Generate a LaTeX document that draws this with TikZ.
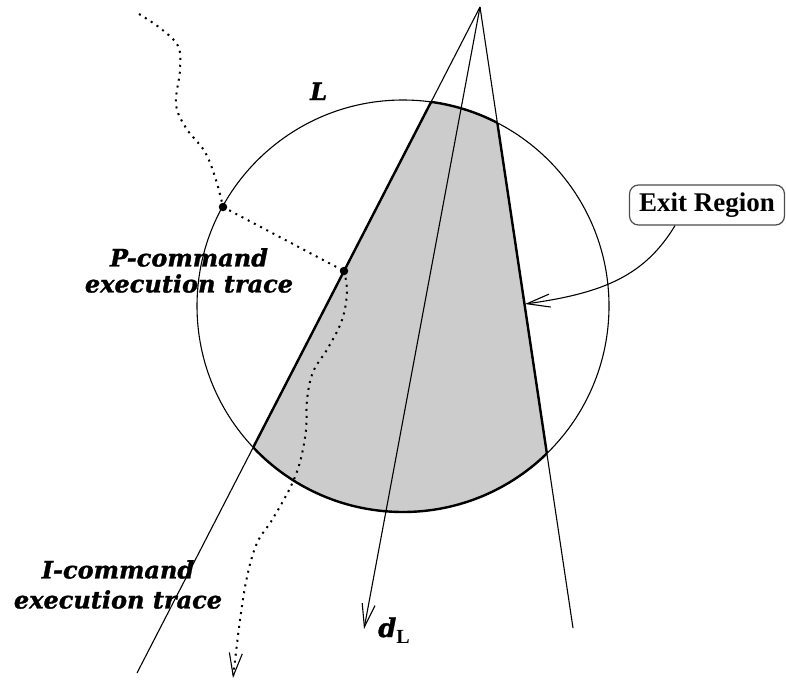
\documentclass[tikz,border=0pt]{standalone}
\usepackage{fontspec}
\setmainfont{DejaVu Serif}[BoldItalicFeatures={FakeBold=1.2}]
\newfontfamily\boxfont{Liberation Serif}
\usetikzlibrary{arrows.meta,positioning,calc}
\definecolor{regiongray}{gray}{0.8}
\definecolor{boxgray}{gray}{0.3}
\tikzset{
  ln/.style={line width=1.1pt},
  bnd/.style={line width=2.4pt},
  barb/.style={-{Straight Barb[length=23pt,width=13pt,line width=1.1pt]}},
  trace/.style={line width=2pt,dash pattern=on 2pt off 5pt},
  tdot/.style={circle,fill=black,inner sep=0pt,minimum size=8.5pt},
  tlab/.style={font=\fontsize{24}{26}\selectfont\bfseries\itshape,inner sep=0pt,align=center},
  exitbox/.style={draw=boxgray,line width=1.2pt,rounded corners=9pt,minimum width=155pt,
    minimum height=40pt,inner sep=0pt,font=\boxfont\fontsize{27}{27}\selectfont\bfseries},
}
\begin{document}
\begin{tikzpicture}[x=1pt,y=-1pt]
  \useasboundingbox (0,0) rectangle (786,682);
  \coordinate (apex) at (480,7);
  \coordinate (lend) at (137,673);
  \coordinate (rend) at (573,628);
  \coordinate (dtip) at (364,629);
  \coordinate (O) at (403,306);
  \def\R{206}
  % shaded region inside L
  \begin{scope}
    \clip (O) circle[radius=\R];
    \fill[regiongray] (apex) -- (lend) -- (rend) -- cycle;
    \draw[bnd] (apex) -- (lend) (apex) -- (rend);
  \end{scope}
  \begin{scope}
    \clip (apex) -- (lend) -- (rend) -- cycle;
    \draw[bnd] (O) circle[radius=\R];
  \end{scope}
  \draw[ln] (O) circle[radius=\R];
  \draw[ln] (apex) -- (lend);
  \draw[ln] (apex) -- (rend);
  \draw[ln,barb] (apex) -- (dtip);
  % execution traces
  \node[tdot] (p1) at (223,207) {};
  \node[tdot] (p2) at (344,271) {};
  \draw[trace] plot[smooth,tension=0.6] coordinates {(139,14) (160,28) (178,46) (180,70)
    (176,104) (186,128) (205,152) (216,180) (223,207)};
  \draw[trace] (p1.center) -- (p2.center);
  \draw[trace,barb] plot[smooth,tension=0.6] coordinates {(344,271) (347,292) (342,320)
    (328,348) (313,372) (307,400) (306,430) (300,462) (290,488) (272,520) (257,543)
    (247,577) (240,620) (233,678)};
  % labels
  \node[tlab,anchor=base west] (llab) at (310,100) {L};
  \node[tlab,anchor=north] (plab) at (189,248) {P-command\\execution trace};
  \node[tlab,anchor=north,font=\fontsize{24}{30}\selectfont\bfseries\itshape] (ilab)
    at (118,560) {I-command\\execution trace};
  \node[anchor=base west,inner sep=0pt] (dlab) at (378,637)
    {{\fontsize{26}{26}\selectfont\bfseries\itshape d}\raisebox{-6pt}{\boxfont\fontsize{20}{20}\selectfont\bfseries L}};
  \node[exitbox] (exit) at (707,205) {Exit Region};
  \coordinate (etip) at (525,304);
  \draw[ln,barb] ([xshift=-32pt]exit.south) .. controls (645,275) and (605,293) .. (etip);
\end{tikzpicture}
\end{document}
